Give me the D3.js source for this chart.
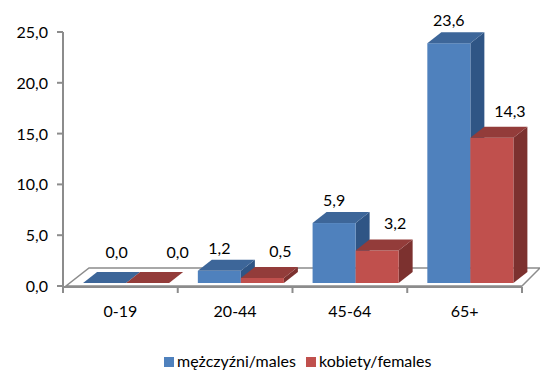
<!DOCTYPE html>
<html>
<head>
<meta charset="utf-8">
<script src="https://cdn.jsdelivr.net/npm/d3@7"></script>
<style>
  body { margin: 0; background: #fff; }
  text { font-family: Lato, "Open Sans", sans-serif; font-size: 16px; fill: #000; }
</style>
</head>
<body>
<div id="chart"></div>
<script>
// Data
const categories = ["0-19", "20-44", "45-64", "65+"];
const males = [0.0, 1.2, 5.9, 23.6];
const females = [0.0, 0.5, 3.2, 14.3];
const seriesNames = ["mężczyźni/males", "kobiety/females"];
const yTicks = [0, 5, 10, 15, 20, 25];

const width = 540, height = 376;

// colours for front / top / side faces
const palette = [
    { front: "#4f81bd", top: "#3d6699", side: "#2f5585" },
    { front: "#c0504d", top: "#933c3a", side: "#7c312f" }
];

const svg = d3.select("#chart").append("svg")
    .attr("width", width)
    .attr("height", height);

// Scales
const x = d3.scaleBand().domain(categories).range([63, 522]);
const y = d3.scaleLinear().domain([0, 25]).range([286, 32]);

const depth = { dx: 14, dy: -11 };   // bar depth offset
const baseY = y(0) - 3;             // bars stand a bit back on the floor
const barOffset = x.bandwidth() * 0.175;
const barWidth = x.bandwidth() * 0.375;

const fmt = v => d3.format(".1f")(v).replace(".", ",");

// Floor
const [x0, x1] = x.range();
svg.append("polygon")
    .attr("points", [[x0 + 3, y(0)], [x1, y(0)], [x1 + 18, y(0) - 18], [x0 + 26, y(0) - 18]].join(" "))
    .attr("fill", "none")
    .attr("stroke", "#8c8c8c")
    .attr("stroke-width", 1.5);

// Value axis
svg.append("line")
    .attr("x1", x0).attr("x2", x0)
    .attr("y1", y(25)).attr("y2", y(0) + 1)
    .attr("stroke", "#8c8c8c").attr("stroke-width", 2);

svg.selectAll(".ytick").data(yTicks).enter().append("line")
    .attr("x1", x0 - 6).attr("x2", x0)
    .attr("y1", d => y(d)).attr("y2", d => y(d))
    .attr("stroke", "#8c8c8c").attr("stroke-width", 2);

svg.selectAll(".ylabel").data(yTicks).enter().append("text")
    .attr("x", x0 - 15)
    .attr("y", d => y(d) + 6)
    .attr("text-anchor", "end")
    .text(fmt);

// Category axis
svg.append("line")
    .attr("x1", x0).attr("x2", x1)
    .attr("y1", y(0) + 1).attr("y2", y(0) + 1)
    .attr("stroke", "#8c8c8c").attr("stroke-width", 2);

svg.selectAll(".xtick").data(categories.concat([null])).enter().append("line")
    .attr("x1", (d, i) => x0 + i * x.step()).attr("x2", (d, i) => x0 + i * x.step())
    .attr("y1", y(0) + 1).attr("y2", y(0) + 7)
    .attr("stroke", "#8c8c8c").attr("stroke-width", 2);

svg.selectAll(".xlabel").data(categories).enter().append("text")
    .attr("x", d => x(d) + x.bandwidth() / 2)
    .attr("y", 317)
    .attr("text-anchor", "middle")
    .text(d => d);

// Bars, drawn back-to-front per category
const series = [males, females];
categories.forEach((c, i) => {
    series.forEach((vals, s) => {
        const v = vals[i];
        const bx = x(c) + barOffset + s * barWidth;
        const h = y(0) - y(v);
        const top = baseY - h;
        const g = svg.append("g").attr("class", "bar");
        const col = palette[s];

        // side face
        g.append("polygon")
            .attr("points", [[bx + barWidth, top], [bx + barWidth + depth.dx, top + depth.dy],
                [bx + barWidth + depth.dx, baseY + depth.dy], [bx + barWidth, baseY]].join(" "))
            .attr("fill", col.side);
        // front face
        g.append("rect")
            .attr("x", bx).attr("y", top)
            .attr("width", barWidth).attr("height", h)
            .attr("fill", col.front);
        // top face
        g.append("polygon")
            .attr("points", [[bx, top], [bx + barWidth, top],
                [bx + barWidth + depth.dx, top + depth.dy], [bx + depth.dx, top + depth.dy]].join(" "))
            .attr("fill", col.top);

        // value label (Excel nudges labels of flat bars to the right)
        const shift = (s === 1 ? 18 : 0) + (v === 0 ? 12 : 0);
        g.append("text")
            .attr("x", bx + barWidth / 2 + shift)
            .attr("y", Math.min(top + depth.dy - (s === 1 ? 10 : 6), baseY - 25))
            .attr("text-anchor", "middle")
            .text(fmt(v));
    });
});

// Legend
const legendX = [164, 306];
const legend = svg.selectAll(".legend").data(seriesNames).enter().append("g")
    .attr("transform", (d, i) => `translate(${legendX[i]}, 357)`);
legend.append("rect")
    .attr("width", 10).attr("height", 10)
    .attr("fill", (d, i) => palette[i].front);
legend.append("text")
    .attr("x", 13).attr("y", 9.5)
    .text(d => d);
</script>
</body>
</html>
